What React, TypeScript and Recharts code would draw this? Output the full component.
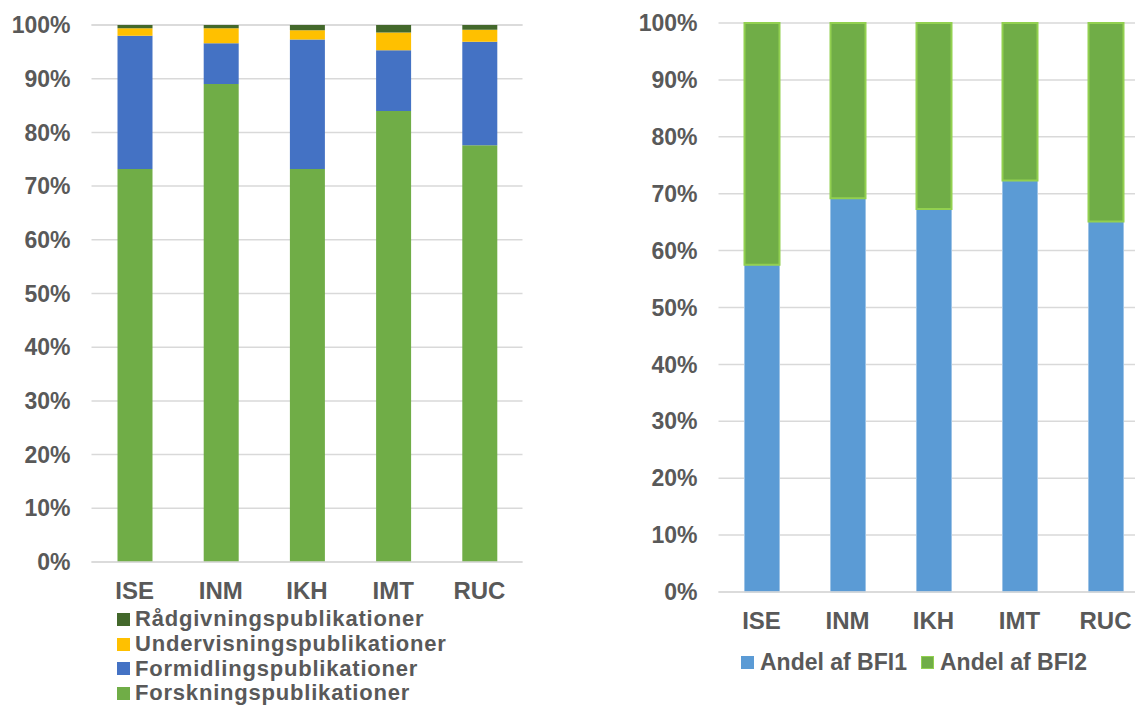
import React from "react";
import { BarChart, Bar, XAxis, YAxis, CartesianGrid, Legend } from "recharts";

// categories (institutter)
const units = ["ISE", "INM", "IKH", "IMT", "RUC"];

// left chart: publication types, share in %
const forskning = [73.2, 89.0, 73.2, 84.0, 77.6];
const formidling = [24.8, 7.6, 24.1, 11.3, 19.3];
const undervisning = [1.4, 2.8, 1.7, 3.3, 2.2];
const raadgivning = [0.6, 0.6, 1.0, 1.4, 0.9];

// right chart: BFI level shares in %
const bfi1 = [57.5, 69.2, 67.3, 72.3, 65.1];
const bfi2 = [42.5, 30.8, 32.7, 27.7, 34.9];

const yTicks = [0, 10, 20, 30, 40, 50, 60, 70, 80, 90, 100];

const FONT = '"Liberation Sans", Arial, sans-serif';
const TEXT = "#595959";
const GRID = "#D9D9D9";

const pubSeries = [
  { key: "forskning", name: "Forskningspublikationer", color: "#70AD47" },
  { key: "formidling", name: "Formidlingspublikationer", color: "#4472C4" },
  { key: "undervisning", name: "Undervisningspublikationer", color: "#FFC000" },
  { key: "raadgivning", name: "Rådgivningspublikationer", color: "#43682B" },
];

const bfiSeries = [
  { key: "bfi1", name: "Andel af BFI1", color: "#5B9BD5", stroke: "#9DC3E6", sw: 1 },
  { key: "bfi2", name: "Andel af BFI2", color: "#70AD47", stroke: "#92D050", sw: 2 },
];

const pubData = units.map((u, i) => ({
  unit: u,
  forskning: forskning[i],
  formidling: formidling[i],
  undervisning: undervisning[i],
  raadgivning: raadgivning[i],
}));

const bfiData = units.map((u, i) => ({ unit: u, bfi1: bfi1[i], bfi2: bfi2[i] }));

const yTick = { fontSize: 23, fontWeight: 700, fill: TEXT, fontFamily: FONT };
const xTick = { fontSize: 24, fontWeight: 700, fill: TEXT, fontFamily: FONT };

function PubLegend() {
  return (
    <div style={{ height: 99, paddingLeft: 117, fontFamily: FONT }}>
      {[...pubSeries].reverse().map((s) => (
        <div
          key={s.key}
          style={{ height: 24.7, display: "flex", alignItems: "center", color: TEXT, fontWeight: 700, fontSize: 22, letterSpacing: 0.8 }}
        >
          <span style={{ width: 13, height: 13, background: s.color, marginRight: 5, flexShrink: 0 }} />
          {s.name}
        </div>
      ))}
    </div>
  );
}

function BfiLegend() {
  return (
    <div style={{ height: 30, display: "flex", alignItems: "center", paddingLeft: 121, fontFamily: FONT }}>
      {bfiSeries.map((s) => (
        <div key={s.key} style={{ display: "flex", alignItems: "center", color: TEXT, fontWeight: 700, fontSize: 23, marginRight: 14 }}>
          <span
            style={{ width: 13, height: 13, background: s.color, marginRight: 6, boxSizing: "border-box", border: s.key === "bfi2" ? `1.5px solid ${s.stroke}` : "none" }}
          />
          {s.name}
        </div>
      ))}
    </div>
  );
}

export default function App() {
  return (
    <div style={{ position: "absolute", left: 0, top: 0, width: 1135, height: 706, overflow: "hidden", background: "#fff" }}>
      <div style={{ position: "absolute", left: 0, top: 0 }}>
        <BarChart width={540} height={706} data={pubData} margin={{ top: 25, right: 17.5, left: 0, bottom: 0 }} barSize={35}>
          <CartesianGrid vertical={false} stroke={GRID} strokeWidth={1.5} />
          <XAxis dataKey="unit" height={45} tickLine={false} tickSize={0} tickMargin={20} axisLine={{ stroke: GRID, strokeWidth: 1.5 }} tick={xTick} />
          <YAxis
            width={91.5}
            domain={[0, 100]}
            ticks={yTicks}
            tickFormatter={(v) => `${v}%`}
            axisLine={false}
            tickLine={false}
            tickSize={0}
            tickMargin={21}
            tick={yTick}
          />
          {pubSeries.map((s) => (
            <Bar key={s.key} dataKey={s.key} name={s.name} stackId="a" fill={s.color} isAnimationActive={false} />
          ))}
          <Legend verticalAlign="bottom" content={<PubLegend />} wrapperStyle={{ left: 0, width: 540 }} />
        </BarChart>
      </div>
      <div style={{ position: "absolute", left: 620, top: 0, width: 515, height: 706, overflow: "hidden" }}>
        <BarChart width={560} height={706} data={bfiData} margin={{ top: 23, right: 31.5, left: 0, bottom: 29 }} barSize={35}>
          <CartesianGrid vertical={false} stroke={GRID} strokeWidth={1.5} />
          <XAxis dataKey="unit" height={55} tickLine={false} tickSize={0} tickMargin={20} axisLine={{ stroke: GRID, strokeWidth: 1.5 }} tick={xTick} />
          <YAxis
            width={98.5}
            domain={[0, 100]}
            ticks={yTicks}
            tickFormatter={(v) => `${v}%`}
            axisLine={false}
            tickLine={false}
            tickSize={0}
            tickMargin={21}
            tick={yTick}
          />
          {bfiSeries.map((s) => (
            <Bar key={s.key} dataKey={s.key} name={s.name} stackId="b" fill={s.color} stroke={s.stroke} strokeWidth={s.sw} isAnimationActive={false} />
          ))}
          <Legend verticalAlign="bottom" content={<BfiLegend />} wrapperStyle={{ left: 0, width: 560 }} />
        </BarChart>
      </div>
    </div>
  );
}
